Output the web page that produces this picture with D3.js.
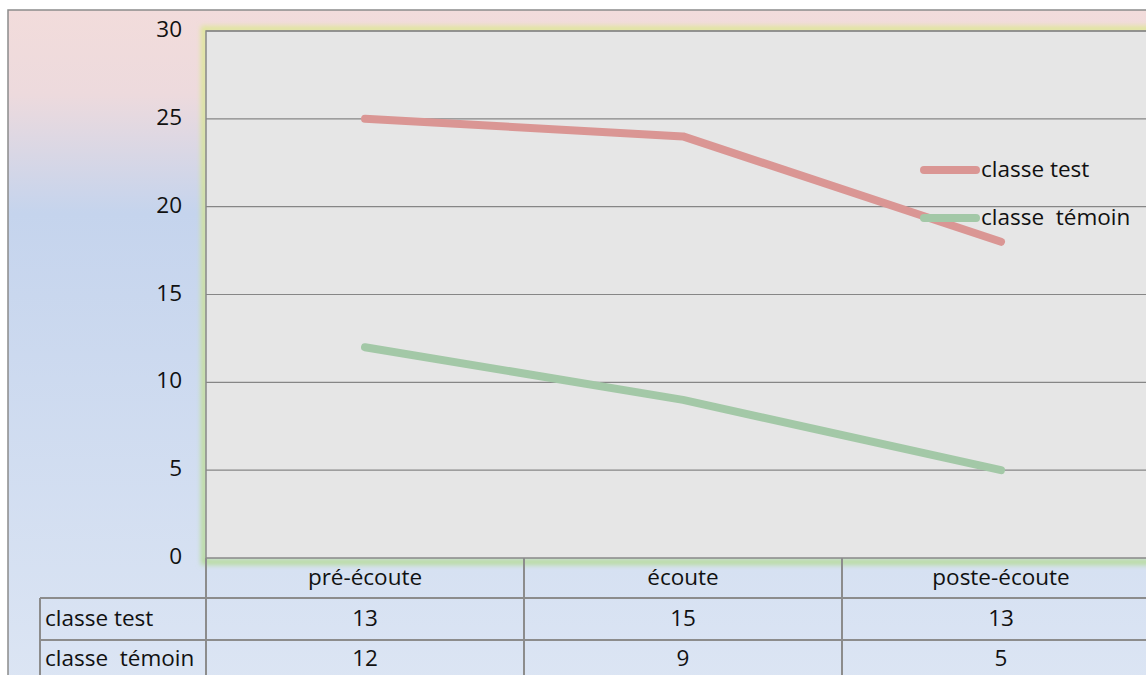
<html>
<head>
    <meta charset="UTF-8" />
    <script src="https://d3js.org/d3.v7.min.js"></script>
    <style>
        body { margin: 0; background: white; }
        text { font-family: "Open Sans", Lato, sans-serif; fill: #111; }
    </style>
</head>
<body>
    <svg id="chart" width="1146" height="675"></svg>
    <script>
        // data
        const categories = ["pré-écoute", "écoute", "poste-écoute"];
        const seriesNames = ["classe test", "classe  témoin"];
        const testValues = [25, 24, 18];
        const temoinValues = [12, 9, 5];
        // numbers printed in the data table under the chart
        const tableTest = [13, 15, 13];
        const tableTemoin = [12, 9, 5];
        const yTicks = [0, 5, 10, 15, 20, 25, 30];

        const svg = d3.select("svg#chart");
        const plot = {left: 206, top: 31, right: 1160, bottom: 558};
        const fontSize = "22.5px";

        const defs = svg.append("defs");
        let bg = defs.append("linearGradient").attr("id", "bg")
            .attr("x1", 0).attr("y1", 0).attr("x2", 0).attr("y2", 1);
        bg.append("stop").attr("offset", "0%").attr("stop-color", "#f2dcdb");
        bg.append("stop").attr("offset", "12%").attr("stop-color", "#eddadd");
        bg.append("stop").attr("offset", "29%").attr("stop-color", "#c5d4ed");
        bg.append("stop").attr("offset", "100%").attr("stop-color", "#dde6f4");

        let glow = defs.append("linearGradient").attr("id", "glow")
            .attr("x1", 0).attr("y1", 0).attr("x2", 0).attr("y2", 1);
        glow.append("stop").attr("offset", "0%").attr("stop-color", "#dfe69a");
        glow.append("stop").attr("offset", "100%").attr("stop-color", "#b7db9c");

        defs.append("filter").attr("id", "blur")
            .attr("x", "-5%").attr("y", "-5%").attr("width", "110%").attr("height", "110%")
            .append("feGaussianBlur").attr("stdDeviation", 2.5);

        // chart background and outer border
        svg.append("rect")
            .attr("x", 8).attr("y", 10)
            .attr("width", 1200).attr("height", 700)
            .attr("fill", "url(#bg)")
            .attr("stroke", "#8c8c8c").attr("stroke-width", 1.5);

        const x = d3.scaleBand().domain(categories).range([plot.left, plot.right]);
        const y = d3.scaleLinear().domain([0, 30]).range([plot.bottom, plot.top]);

        // glow behind plot area
        svg.append("rect")
            .attr("x", plot.left - 2).attr("y", plot.top - 2)
            .attr("width", plot.right - plot.left + 4).attr("height", plot.bottom - plot.top + 6)
            .attr("fill", "none")
            .attr("stroke", "url(#glow)").attr("stroke-width", 6)
            .attr("filter", "url(#blur)");

        svg.append("rect")
            .attr("x", plot.left).attr("y", plot.top)
            .attr("width", plot.right - plot.left).attr("height", plot.bottom - plot.top)
            .attr("fill", "#e6e6e6")
            .attr("stroke", "#888").attr("stroke-width", 1.5);

        // gridlines
        svg.append("g").selectAll("line").data(yTicks.slice(1)).join("line")
            .attr("x1", plot.left).attr("x2", plot.right)
            .attr("y1", d => y(d)).attr("y2", d => y(d))
            .attr("stroke", "#868686").attr("stroke-width", 1.2);

        // y labels
        svg.append("g").selectAll("text").data(yTicks).join("text")
            .attr("x", 182).attr("y", d => y(d))
            .attr("text-anchor", "end").attr("dominant-baseline", "middle")
            .attr("font-size", fontSize)
            .text(d => d);

        // lines
        const lineGen = d3.line()
            .x((d, i) => x(categories[i]) + x.bandwidth() / 2)
            .y(d => y(d));
        const colors = ["#da9694", "#a3c8a7"];
        [testValues, temoinValues].forEach((vals, i) => {
            svg.append("path")
                .attr("d", lineGen(vals))
                .attr("fill", "none")
                .attr("stroke", colors[i]).attr("stroke-width", 8)
                .attr("stroke-linecap", "round").attr("stroke-linejoin", "round");
        });

        // legend
        seriesNames.forEach((name, i) => {
            let ly = 170 + i * 48;
            svg.append("line")
                .attr("x1", 924).attr("x2", 976).attr("y1", ly).attr("y2", ly)
                .attr("stroke", colors[i]).attr("stroke-width", 8)
                .attr("stroke-linecap", "round");
            svg.append("text")
                .attr("x", 981).attr("y", ly + 1)
                .attr("dominant-baseline", "middle")
                .attr("font-size", fontSize)
                .style("white-space", "pre")
                .text(name);
        });

        // data table
        const rowTop = [558, 598, 640, 682];
        const tableColor = "#8c8c8c";
        let table = svg.append("g");
        [598, 640].forEach(ry => {
            table.append("line").attr("x1", 40).attr("x2", 1146).attr("y1", ry).attr("y2", ry)
                .attr("stroke", tableColor).attr("stroke-width", 2);
        });
        table.append("line").attr("x1", 40).attr("x2", 40).attr("y1", 598).attr("y2", 675)
            .attr("stroke", tableColor).attr("stroke-width", 2);
        [plot.left, x("écoute"), x("poste-écoute")].forEach(cx => {
            table.append("line").attr("x1", cx).attr("x2", cx).attr("y1", 558).attr("y2", 675)
                .attr("stroke", tableColor).attr("stroke-width", 2);
        });
        table.selectAll("text.cat").data(categories).join("text")
            .attr("class", "cat")
            .attr("x", d => x(d) + x.bandwidth() / 2).attr("y", (rowTop[0] + rowTop[1]) / 2 + 1)
            .attr("text-anchor", "middle").attr("dominant-baseline", "middle")
            .attr("font-size", fontSize)
            .text(d => d);
        [tableTest, tableTemoin].forEach((vals, r) => {
            let cy = (rowTop[r + 1] + rowTop[r + 2]) / 2 + (r == 1 ? -1 : 1);
            table.append("text")
                .attr("x", 45).attr("y", cy)
                .attr("dominant-baseline", "middle")
                .attr("font-size", fontSize)
                .style("white-space", "pre")
                .text(seriesNames[r]);
            vals.forEach((v, i) => {
                table.append("text")
                    .attr("x", x(categories[i]) + x.bandwidth() / 2).attr("y", cy)
                    .attr("text-anchor", "middle").attr("dominant-baseline", "middle")
                    .attr("font-size", fontSize)
                    .text(v);
            });
        });
    </script>
</body>
</html>
